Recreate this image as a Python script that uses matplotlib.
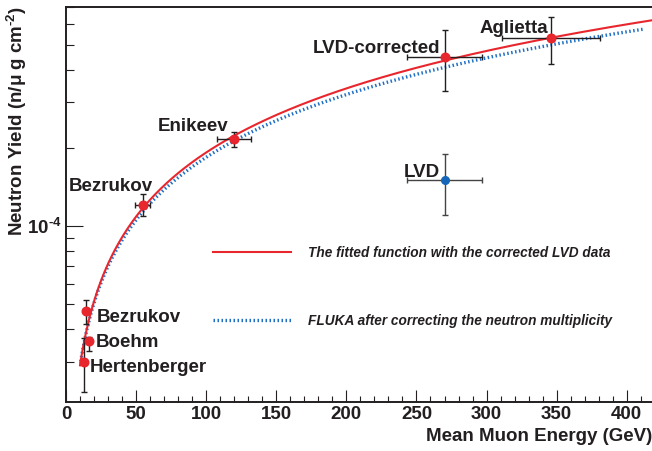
import numpy as np
import matplotlib
matplotlib.use("Agg")
import matplotlib.pyplot as plt
from matplotlib.ticker import MultipleLocator, LogLocator, NullFormatter, FixedFormatter, FixedLocator
from matplotlib.font_manager import FontProperties

plt.rcParams["font.family"] = ["Liberation Sans", "DejaVu Sans"]
plt.rcParams["font.weight"] = "bold"
plt.rcParams["mathtext.fontset"] = "custom"
plt.rcParams["mathtext.rm"] = "Liberation Sans:bold"
plt.rcParams["mathtext.it"] = "Liberation Sans:bold:italic"
plt.rcParams["mathtext.bf"] = "Liberation Sans:bold"

# measurements: mean muon energy (GeV) and neutron yield (n / mu g cm^-2)
names = ["Hertenberger", "Boehm", "Bezrukov", "Bezrukov", "Enikeev", "LVD-corrected", "Aglietta"]
energy = [12.6, 16.4, 14.3, 54.7, 120.0, 270.0, 346.0]
energy_err = [0.0, 0.0, 0.0, 5.5, 12.0, 27.0, 35.0]
yield_ = [3.0e-5, 3.6e-5, 4.7e-5, 1.21e-4, 2.16e-4, 4.5e-4, 5.3e-4]
yield_err_lo = [0.7e-5, 0.3e-5, 0.5e-5, 0.12e-4, 0.14e-4, 1.2e-4, 1.1e-4]
yield_err_hi = [0.7e-5, 0.15e-5, 0.5e-5, 0.12e-4, 0.14e-4, 1.2e-4, 1.1e-4]

# original (uncorrected) LVD point
lvd_energy = 270.0
lvd_energy_err = 27.0
lvd_yield = 1.5e-4
lvd_yield_err = 0.4e-4

# power-law curves  Y = a * E^b
fit_norm, fit_index = 4.4e-6, 0.82
fit_emin, fit_emax = 10.0, 420.0
fluka_norm, fluka_index = 4.56e-6, 0.803
fluka_emin, fluka_emax = 10.5, 413.0

legend_labels = ["The fitted function with the corrected LVD data",
                 "FLUKA after correcting the neutron multiplicity"]

# label offsets from each point, in pixels (dx, dy, ha)
label_offsets = [(6, -10, "left"), (7, -6, "left"), (11, -11, "left"),
                 (10, 14, "right"), (-6, 8, "right"), (-4, 4, "right"), (-3, 5.5, "right")]

RED = "#e8262d"
BLUE = "#1f6fc4"
INK = "#231f20"

fig = plt.figure(figsize=(6.52, 4.51), dpi=100)
ax = fig.add_axes([66 / 652, 1 - 402 / 451, 586 / 652, 395.3 / 451])

e_fit = np.linspace(fit_emin, fit_emax, 400)
line_fit, = ax.plot(e_fit, fit_norm * e_fit ** fit_index, color=RED, lw=1.5, zorder=3)
e_fl = np.linspace(fluka_emin, fluka_emax, 400)
line_fl, = ax.plot(e_fl, fluka_norm * e_fl ** fluka_index, color=BLUE, lw=2.4,
                   linestyle=(0, (0.45, 0.75)), dash_capstyle="butt", zorder=2)

ax.errorbar(energy, yield_, xerr=energy_err, yerr=[yield_err_lo, yield_err_hi],
            fmt="o", color=RED, ms=6.2, mec=RED, ecolor=INK, elinewidth=1.0,
            capsize=2, capthick=1.0, zorder=4)
ax.errorbar([lvd_energy], [lvd_yield], xerr=[lvd_energy_err], yerr=[lvd_yield_err],
            fmt="o", color="#1565b8", ms=5.5, ecolor="#444444", elinewidth=1.0,
            capsize=2, capthick=1.0, zorder=4)

for name, x, y, (dx, dy, ha) in zip(names, energy, yield_, label_offsets):
    ax.annotate(name, (x, y), xytext=(dx, dy), textcoords="offset pixels",
                ha=ha, va="baseline", fontsize=13.5, fontweight="bold", color=INK)
ax.annotate("LVD", (lvd_energy, lvd_yield), xytext=(-5, 3.5), textcoords="offset pixels",
            ha="right", va="baseline", fontsize=13.5, fontweight="bold", color=INK)

ax.set_yscale("log")
ax.set_xlim(0, 418)
ax.set_ylim(2.1e-5, 7.0e-4)

ax.xaxis.set_major_locator(MultipleLocator(50))
ax.xaxis.set_minor_locator(MultipleLocator(10))
ax.yaxis.set_major_locator(FixedLocator([1e-4]))
ax.yaxis.set_major_formatter(FixedFormatter([r"10$^{\text{-}4}$"]))
ax.yaxis.set_minor_locator(LogLocator(base=10, subs=np.arange(2, 10)))
ax.yaxis.set_minor_formatter(NullFormatter())

ax.tick_params(axis="both", which="both", direction="in", color=INK, width=0.8,
               labelsize=13.5, labelcolor=INK)
ax.tick_params(axis="x", which="major", length=8.5, pad=3)
ax.tick_params(axis="x", which="minor", length=4.2)
ax.tick_params(axis="y", which="major", length=12, pad=3)
ax.tick_params(axis="y", which="minor", length=5.8)
for lab in ax.get_xticklabels() + ax.get_yticklabels():
    lab.set_fontweight("bold")

ax.spines["right"].set_visible(False)
for side in ("left", "bottom", "top"):
    ax.spines[side].set_linewidth(1.4)
    ax.spines[side].set_color(INK)

ax.set_xlabel("Mean Muon Energy (GeV)", fontsize=13.5, fontweight="bold", color=INK,
              ha="right", va="center")
ax.xaxis.set_label_coords(1.0, -0.0885)
ax.set_ylabel(r"Neutron Yield (n/μ g cm$^{\text{-}2}$)", fontsize=13.5, fontweight="bold",
              color=INK, ha="center", va="center")
ax.yaxis.set_label_coords(-0.084, 0.711)

legend_font = FontProperties(family="Liberation Sans", weight="bold", style="italic", size=9.8)
ax.legend([line_fit, line_fl], legend_labels, prop=legend_font, frameon=False,
          loc="upper left", bbox_to_anchor=(212.7 / 652, 1 - 246 / 451),
          bbox_transform=fig.transFigure, borderpad=0, borderaxespad=0,
          handlelength=5.73, handletextpad=1.27, labelspacing=3.98, labelcolor=INK)

fig.savefig("out.png", dpi=100)
